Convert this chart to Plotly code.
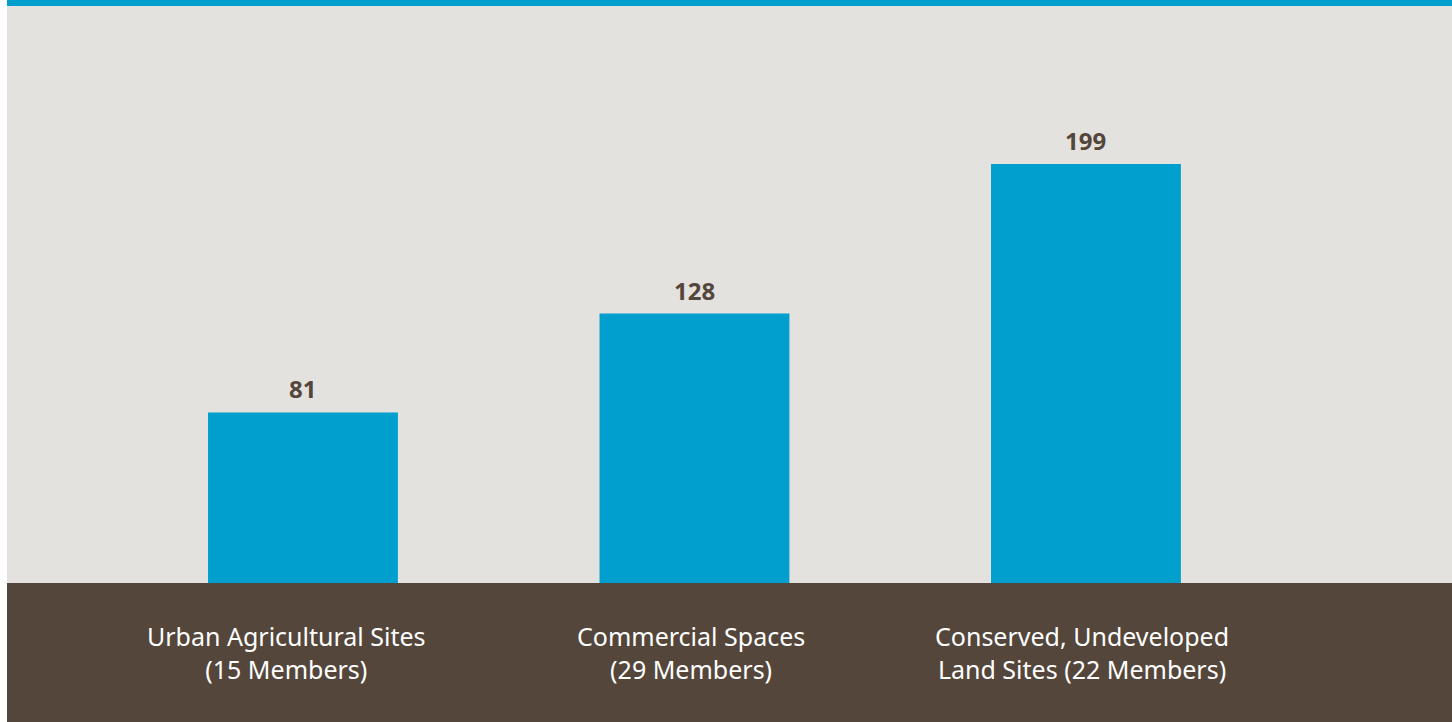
import plotly.graph_objects as go

categories = ["Urban Agricultural Sites<br>(15 Members)",
              "Commercial Spaces<br>(29 Members)",
              "Conserved, Undeveloped<br>Land Sites (22 Members)"]
values = [81, 128, 199]

BLUE = "#009fce"
GRAY = "#e3e2df"
BROWN = "#54463a"

xpos = list(range(len(values)))
label_xshift = [-16, -3, -4]

fig = go.Figure()
fig.add_trace(go.Bar(
    x=xpos, y=values, width=0.485,
    marker=dict(color=BLUE, line=dict(width=0)),
    hoverinfo="skip",
))

for i, v in enumerate(values):
    fig.add_annotation(x=xpos[i], y=v, xref="x", yref="y", text=str(v),
                       showarrow=False, yanchor="bottom", yshift=5,
                       font=dict(family="Noto Sans", size=24, color=BROWN, weight="bold"))

for i, c in enumerate(categories):
    fig.add_annotation(x=xpos[i], xref="x", y=-0.1205, yref="paper",
                       text=c, showarrow=False, yanchor="middle",
                       xshift=label_xshift[i],
                       font=dict(family="Noto Sans", size=25, color="white"),
                       align="center")

fig.update_layout(
    width=1452, height=722,
    margin=dict(l=7, r=0, t=6, b=139),
    paper_bgcolor="white", plot_bgcolor=GRAY,
    showlegend=False,
    xaxis=dict(range=[-0.756, 2.935], showticklabels=False, showgrid=False,
               zeroline=False, showline=False, fixedrange=True),
    yaxis=dict(range=[0, 274.1], showticklabels=False, showgrid=False,
               zeroline=False, showline=False, fixedrange=True),
    shapes=[
        dict(type="rect", xref="paper", yref="paper", x0=0, x1=1,
             y0=1, y1=1 + 6 / 577, fillcolor=BLUE, line=dict(width=0), layer="below"),
        dict(type="rect", xref="paper", yref="paper", x0=0, x1=1,
             y0=-139 / 577, y1=0, fillcolor=BROWN, line=dict(width=0), layer="below"),
    ],
)

fig.write_html("out.html")
